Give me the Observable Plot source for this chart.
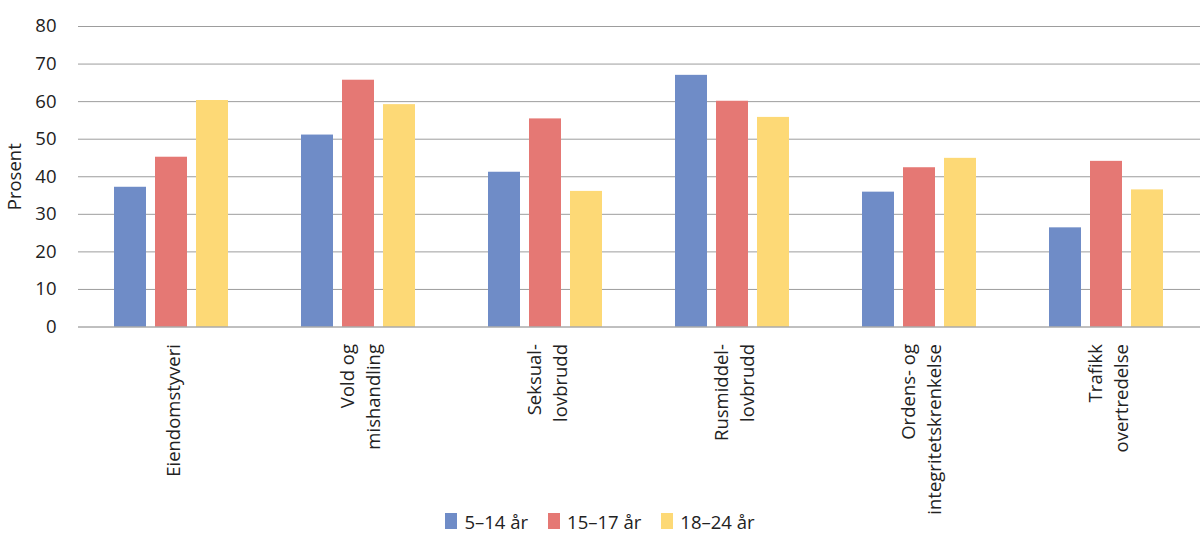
<!DOCTYPE html>
<html>
<head>
<meta charset="utf-8">
<script src="https://cdn.jsdelivr.net/npm/d3@7"></script>
<script src="https://cdn.jsdelivr.net/npm/@observablehq/plot@0.6"></script>
<style>
  html, body { margin: 0; padding: 0; background: #fff; }
  #chart { width: 1200px; font-family: "Open Sans", sans-serif; }
  .legend { position: relative; display: flex; justify-content: center; align-items: center;
            font-family: "Open Sans", sans-serif; font-size: 18.5px; color: #222; margin-top: -18px; height: 18px; }
  .legend .item { display: flex; align-items: center; margin: 0 10px; }
  .legend .sw { width: 12px; height: 16px; margin-right: 7px; }
</style>
</head>
<body>
<div id="chart"></div>
<script>
const categories = ["Eiendomstyveri", "Vold og mishandling", "Seksuallovbrudd", "Rusmiddellovbrudd", "Ordens- og integritetskrenkelse", "Trafikk overtredelse"];
const categoryLabels = ["Eiendomstyveri", "Vold og\nmishandling", "Seksual-\nlovbrudd", "Rusmiddel-\nlovbrudd", "Ordens- og\nintegritetskrenkelse", "Trafikk\novertredelse"];
const series = ["5–14 år", "15–17 år", "18–24 år"];
const colors = ["#6f8cc7", "#e57874", "#fdd976"];
const values5_14 = [37.2, 51.1, 41.2, 67.0, 35.9, 26.4];
const values15_17 = [45.2, 65.7, 55.4, 60.1, 42.4, 44.1];
const values18_24 = [60.3, 59.2, 36.1, 55.8, 44.9, 36.5];
const yTicks = [0, 10, 20, 30, 40, 50, 60, 70, 80];

const seriesValues = [values5_14, values15_17, values18_24];
const data = [];
categories.forEach((c, i) => series.forEach((s, j) => data.push({cat: c, series: s, value: seriesValues[j][i]})));
const labelOf = Object.fromEntries(categories.map((c, i) => [c, categoryLabels[i]]));

const plot = Plot.plot({
  width: 1200,
  height: 530,
  marginLeft: 77,
  marginRight: 0,
  marginTop: 26,
  marginBottom: 203.5,
  style: {fontFamily: "Open Sans, sans-serif", fontSize: "18.5px", color: "#222", background: "#fff"},
  fx: {domain: categories, padding: 0, axis: null},
  x: {domain: series, paddingInner: 0.21, paddingOuter: 0.86, axis: null},
  y: {domain: [0, 80], ticks: yTicks},
  color: {domain: series, range: colors},
  marks: [
    Plot.ruleY(yTicks.slice(1), {stroke: "#9d9d9d", strokeWidth: 1}),
    Plot.axisY({ticks: yTicks, tickSize: 0, tickPadding: 22, label: "Prosent", labelAnchor: "center", labelArrow: "none", labelOffset: 71, fontSize: 18.5}),
    Plot.barY(data, {fx: "cat", x: "series", y: "value", fill: "series"}),
    Plot.ruleY([0], {stroke: "#808080", strokeWidth: 1}),
    Plot.text(categories, {fx: d => d, text: d => labelOf[d], frameAnchor: "bottom", rotate: -90, textAnchor: "end", lineAnchor: "middle", lineHeight: 1.4, dy: 17, fontSize: 18.5, fill: "#222"})
  ]
});
document.getElementById("chart").appendChild(plot);

const legend = document.createElement("div");
legend.className = "legend";
series.forEach((s, i) => {
  const item = document.createElement("div");
  item.className = "item";
  const sw = document.createElement("span");
  sw.className = "sw";
  sw.style.background = colors[i];
  const t = document.createElement("span");
  t.textContent = s;
  item.appendChild(sw); item.appendChild(t);
  legend.appendChild(item);
});
document.getElementById("chart").appendChild(legend);
</script>
</body>
</html>
